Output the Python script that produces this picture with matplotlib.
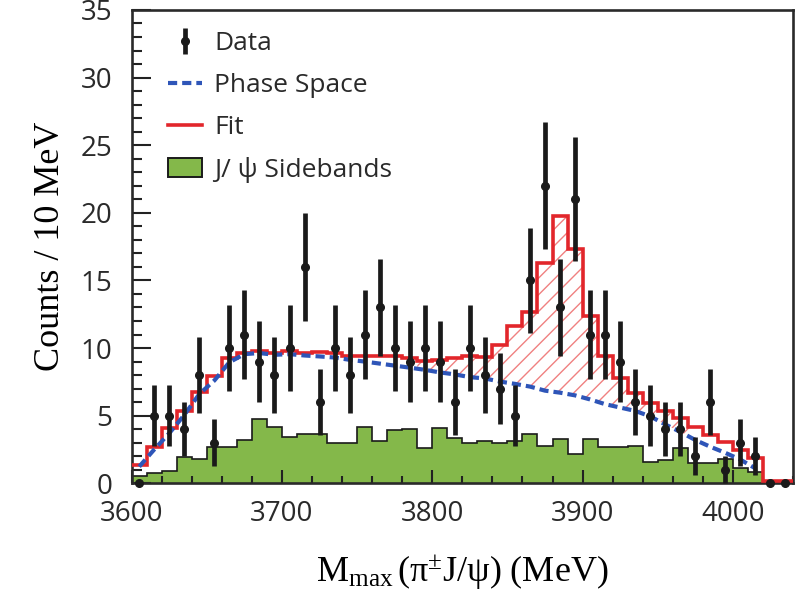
import numpy as np
import matplotlib
matplotlib.use('Agg')
import matplotlib.pyplot as plt
from matplotlib.lines import Line2D
from matplotlib.patches import Patch

plt.rcParams['font.family'] = ['Open Sans', 'DejaVu Sans']
plt.rcParams['mathtext.fontset'] = 'custom'
plt.rcParams['mathtext.rm'] = 'Liberation Serif'
plt.rcParams['mathtext.it'] = 'Liberation Serif:italic'
plt.rcParams['hatch.linewidth'] = 1.0

# 10 MeV bins from 3600 to 4040 MeV
bin_lo = 3600
bin_width = 10
n_bins = 44

# data counts per bin
counts = [0, 5, 5, 4, 8, 3, 10, 11, 9, 8, 10, 16, 6, 10, 8, 11, 13, 10, 9, 10, 9, 6,
          10, 8, 7, 5, 15, 22, 13, 21, 11, 11, 9, 6, 5, 4, 4, 2, 6, 1, 3, 2, 0, 0]

# total fit (step histogram)
fit = [1.36, 2.71, 4.07, 5.37, 6.76, 7.9, 9.28, 9.63, 9.75, 9.6, 9.75, 9.65, 9.68, 9.65,
       9.4, 9.4, 9.38, 9.4, 9.3, 9.05, 9.1, 9.25, 9.38, 9.35, 10.2, 11.6, 12.65, 16.3,
       19.8, 17.35, 12.35, 9.4, 7.75, 6.65, 5.95, 5.38, 4.81, 4.19, 3.58, 3.08, 2.47,
       1.85, 0.2, 0.15]

# phase space shape, at bin centres (first 42 bins)
phase = [1.23, 2.5, 3.7, 5.05, 6.6, 7.6, 8.95, 9.55, 9.63, 9.5, 9.55, 9.45, 9.38, 9.3,
         9.13, 9.0, 8.85, 8.7, 8.55, 8.39, 8.2, 8.05, 7.85, 7.75, 7.52, 7.35, 7.15, 6.85,
         6.7, 6.5, 6.2, 5.85, 5.6, 5.35, 4.95, 4.35, 3.8, 3.2, 2.7, 2.25, 1.75, 1.1]

# J/psi sidebands
sideband = [0.54, 0.79, 0.93, 1.97, 1.78, 2.71, 2.71, 3.21, 4.74, 4.19, 3.45, 3.65, 3.65,
            2.96, 2.96, 4.19, 3.1, 3.95, 4.05, 2.59, 4.07, 3.33, 3.0, 3.1, 2.96, 3.13,
            3.65, 2.79, 3.28, 2.2, 3.26, 2.71, 2.71, 2.75, 1.6, 1.7, 2.64, 1.5, 1.5, 1.8,
            1.1, 0.8, 0, 0]

signal_range = (3790, 3975)

edges = bin_lo + bin_width * np.arange(n_bins + 1)
centers = edges[:-1] + bin_width / 2
counts = np.array(counts, dtype=float)
fit = np.array(fit)
sideband = np.array(sideband)

red = '#e2262b'
blue = '#2e55b8'
green = '#84b84a'

fig = plt.figure(figsize=(8.04, 5.97), dpi=100)
ax = fig.add_axes([0.1638, 0.1905, 0.8225, 0.7928])

ax.stairs(sideband, edges, fill=True, color=green, zorder=1)
ax.stairs(sideband, edges, color='#1a1a1a', lw=1.2, baseline=None, zorder=2)

# signal: hatched area between phase space and fit
xs = np.linspace(signal_range[0], signal_range[1], 600)
idx = np.clip(((xs - bin_lo) // bin_width).astype(int), 0, n_bins - 1)
red_at = fit[idx]
blue_at = np.interp(xs, centers[:len(phase)], phase)
ax.fill_between(xs, blue_at, red_at, where=red_at > blue_at, facecolor='none',
                edgecolor='#f08080', hatch='//', linewidth=0, zorder=2.5)

ax.stairs(fit, edges, color=red, lw=2.6, baseline=None, zorder=3)
ax.plot(centers[:len(phase)], phase, color=blue, lw=3, dashes=(2.2, 1.2), zorder=4)

ax.errorbar(centers, counts, yerr=np.sqrt(counts), fmt='o', color='#1a1a1a', ms=5.5,
            elinewidth=3.4, capsize=0, clip_on=False, zorder=6)

ax.set_xlim(3600, 4040)
ax.set_ylim(0, 35)
ax.set_xticks(np.arange(3600, 4001, 100))
ax.set_xticks(np.arange(3600, 4041, 20), minor=True)
ax.set_yticks(np.arange(0, 36, 5))
ax.set_yticks(np.arange(0, 36, 1), minor=True)
ax.tick_params(which='both', direction='in', top=False, right=False, width=1.5,
               color='#222222', labelsize=20, labelcolor='#2a2a2a')
ax.tick_params(axis='y', which='major', length=14, pad=14)
ax.tick_params(axis='y', which='minor', length=7)
ax.tick_params(axis='x', which='major', length=9.5, pad=12)
ax.tick_params(axis='x', which='minor', length=5)
for s in ax.spines.values():
    s.set_linewidth(1.9)
    s.set_color('#2a2a2a')

ax.set_ylabel('Counts / 10 MeV', family='Liberation Serif', fontsize=26, labelpad=10)
ax.set_xlabel(r'$\mathrm{M_{max}\,(π^{±}J/ψ)\ (MeV)}$', fontsize=26, labelpad=18)

handles = [
    ax.errorbar([], [], yerr=[], fmt='o', color='#1a1a1a', ms=5.5, elinewidth=3.4, capsize=0),
    Line2D([], [], color=blue, lw=3, dashes=(2.2, 1.2)),
    Line2D([], [], color=red, lw=2.6),
    Patch(facecolor=green, edgecolor='#1a1a1a', lw=1.4),
]
labels = ['Data', 'Phase Space', 'Fit', 'J/ ψ Sidebands']
ax.legend(handles, labels, loc='upper left', bbox_to_anchor=(0.055, 0.955), frameon=False,
          fontsize=19, handlelength=1.3, handletextpad=0.45, labelspacing=0.64,
          borderpad=0, borderaxespad=0, labelcolor='#2a2a2a')

fig.savefig('out.png', dpi=100)
